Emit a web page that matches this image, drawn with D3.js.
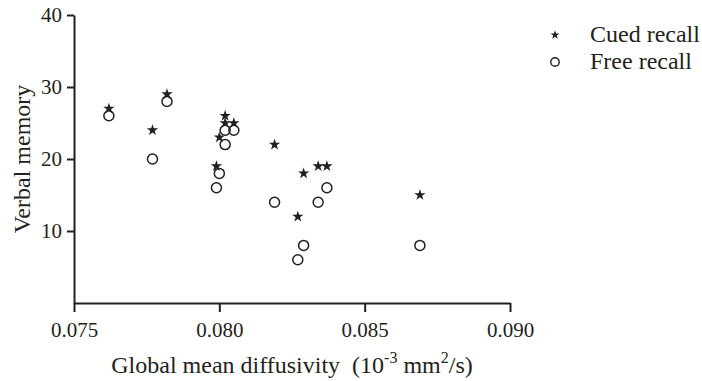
<!DOCTYPE html>
<html>
<head>
<meta charset="utf-8">
<script src="https://cdn.jsdelivr.net/npm/d3@7"></script>
<style>
  body { margin: 0; background: #fff; }
  svg text { font-family: "Liberation Serif", "Times New Roman", serif; fill: #231f20; }
</style>
</head>
<body>
<script>
// one entry per subject
var diffusivity = [0.0762, 0.0777, 0.0782, 0.0802, 0.0802, 0.0805, 0.0800, 0.0799, 0.0819, 0.0829, 0.0834, 0.0837, 0.0827, 0.0869];
var cuedRecall  = [27, 24, 29, 26, 25, 25, 23, 19, 22, 18, 19, 19, 12, 15];
var freeRecall  = [26, 20, 28, 24, 22, 24, 18, 16, 14, 8, 14, 16, 6, 8];

var xTicks = [0.075, 0.080, 0.085, 0.090];
var yTicks = [10, 20, 30, 40];
var seriesNames = ["Cued recall", "Free recall"];

var width = 702, height = 381;
var ink = "#231f20";

var svg = d3.select("body").append("svg")
    .attr("width", width)
    .attr("height", height);

var x = d3.scaleLinear().domain([0.075, 0.090]).range([74, 510]);
var y = d3.scaleLinear().domain([0, 40]).range([303, 15]);

// axes
var xAxis = svg.append("g")
    .attr("transform", "translate(0," + y(0) + ")")
    .call(d3.axisBottom(x).tickValues(xTicks).tickFormat(d3.format(".3f"))
      .tickSize(9).tickSizeOuter(0).tickPadding(10));

var yAxis = svg.append("g")
    .attr("transform", "translate(" + x(0.075) + ",0)")
    .call(d3.axisLeft(y).tickValues(yTicks).tickSize(7).tickSizeOuter(0).tickPadding(5));

[xAxis, yAxis].forEach(function(g) {
  g.select(".domain").attr("stroke", ink).attr("stroke-width", 2);
  g.selectAll(".tick line").attr("stroke", ink).attr("stroke-width", 2);
  g.selectAll(".tick text")
    .attr("fill", ink)
    .style("font-family", "'Liberation Serif', serif")
    .style("font-size", "21px");
});

// axis titles
svg.append("text")
    .attr("transform", "translate(30," + ((y(0) + y(40)) / 2) + ") rotate(-90)")
    .attr("text-anchor", "middle")
    .style("font-size", "24px")
    .text("Verbal memory");

var xt = svg.append("text")
    .attr("x", (x(0.075) + x(0.090)) / 2)
    .attr("y", 373)
    .attr("text-anchor", "middle")
    .style("font-size", "24px")
    .style("white-space", "pre");
xt.append("tspan").text("Global mean diffusivity  (10");
xt.append("tspan").attr("dy", -10).style("font-size", "16px").text("-3");
xt.append("tspan").attr("dy", 10).text(" mm");
xt.append("tspan").attr("dy", -10).style("font-size", "16px").text("2");
xt.append("tspan").attr("dy", 10).text("/s)");

// points
var star = d3.symbol().type(d3.symbolStar);

svg.append("g").selectAll("circle")
    .data(diffusivity)
  .enter().append("circle")
    .attr("cx", function(d) { return x(d); })
    .attr("cy", function(d, i) { return y(freeRecall[i]); })
    .attr("r", 5)
    .attr("fill", "none")
    .attr("stroke", ink)
    .attr("stroke-width", 1.5);

svg.append("g").selectAll("path")
    .data(diffusivity)
  .enter().append("path")
    .attr("d", star.size(40)())
    .attr("transform", function(d, i) { return "translate(" + x(d) + "," + y(cuedRecall[i]) + ")"; })
    .attr("fill", ink);

// legend
var legend = svg.append("g");
legend.append("path")
    .attr("d", star.size(26)())
    .attr("transform", "translate(555,35)")
    .attr("fill", ink);
legend.append("circle")
    .attr("cx", 555).attr("cy", 62).attr("r", 4.2)
    .attr("fill", "none").attr("stroke", ink).attr("stroke-width", 1.4);
legend.selectAll("text")
    .data(seriesNames)
  .enter().append("text")
    .attr("x", 590)
    .attr("y", function(d, i) { return 42 + i * 27; })
    .style("font-size", "24px")
    .text(function(d) { return d; });
</script>
</body>
</html>
